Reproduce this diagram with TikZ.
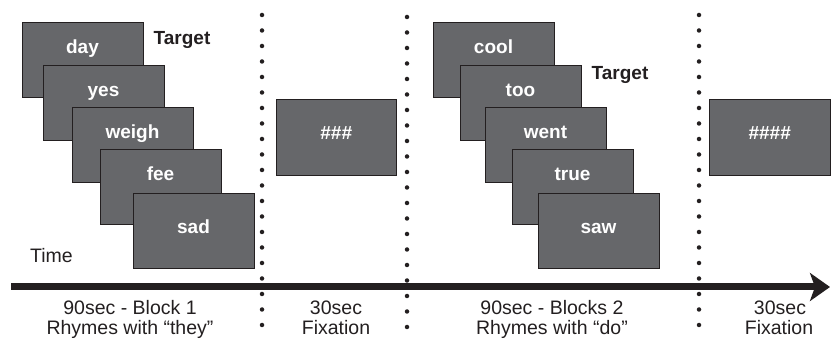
\documentclass[tikz,border=0pt]{standalone}
\usepackage{fontspec}
\setmainfont{Liberation Sans}
\usetikzlibrary{arrows.meta}
\definecolor{boxgray}{HTML}{66676A}
\definecolor{ink}{HTML}{231F20}
\begin{document}
\begin{tikzpicture}[x=1pt,y=-1pt,
  screen/.style={draw=ink, line width=1.4pt, fill=boxgray, minimum width=121pt, minimum height=75pt, inner sep=0pt, anchor=north west},
  fixbox/.style={screen, minimum width=120pt, minimum height=76pt},
  word/.style={text=white, font=\fontsize{19}{22}\selectfont\bfseries, inner sep=0pt, anchor=mid},
  hash/.style={text=white, font=\fontsize{19}{22}\selectfont\bfseries\itshape, inner sep=0pt, anchor=mid},
  tgt/.style={text=ink, font=\fontsize{19}{22}\selectfont\bfseries, inner sep=0pt, anchor=mid},
  lbl/.style={text=ink, font=\fontsize{19.5}{22}\selectfont, inner sep=0pt, anchor=base},
  dots/.style={draw=ink, line width=4.5pt, line cap=round, dash pattern=on 0pt off 15.5pt},
  timeline/.style={draw=ink, line width=7pt, -{Stealth[length=20pt,width=28pt,inset=5pt]}}
]
\useasboundingbox (0,0) rectangle (831,339);

% dotted separators
\coordinate (d1t) at (262,15);  \coordinate (d1b) at (262,339);
\coordinate (d2t) at (407,17);  \coordinate (d2b) at (407,330);
\coordinate (d3t) at (699,15);  \coordinate (d3b) at (699,339);
\draw[dots] (d1t) -- (d1b);
\draw[dots] (d2t) -- (d2b);
\draw[dots] (d3t) -- (d3b);

% time axis
\coordinate (ts) at (11,287);
\coordinate (te) at (830,287);
\draw[timeline] (ts) -- (te);

% block 1
\node[screen] (a1) at (22,22) {};
\node[word] (w1) at (82.5,51) {day};
\node[screen] (a2) at (43,65) {};
\node[word] (w2) at (103.5,94) {yes};
\node[screen] (a3) at (72,107) {};
\node[word] (w3) at (132.5,136) {weigh};
\node[screen] (a4) at (100,149) {};
\node[word] (w4) at (160.5,178) {fee};
\node[screen] (a5) at (133,193) {};
\node[word] (w5) at (193.5,231) {sad};
\node[tgt] (t1) at (182,42) {Target};
\node[lbl, anchor=base west] (time) at (30,263) {Time};

% fixation 1
\node[fixbox] (f1) at (276,99) {};
\node[hash] (h1) at (336,137) {\#\#\#};

% block 2
\node[screen] (b1) at (433,22) {};
\node[word] (v1) at (493.5,51) {cool};
\node[screen] (b2) at (460,65) {};
\node[word] (v2) at (520.5,94) {too};
\node[screen] (b3) at (485,107) {};
\node[word] (v3) at (545.5,136) {went};
\node[screen] (b4) at (512,149) {};
\node[word] (v4) at (572.5,178) {true};
\node[screen] (b5) at (538,193) {};
\node[word] (v5) at (598.5,231) {saw};
\node[tgt] (t2) at (620,77) {Target};

% fixation 2
\node[fixbox, minimum width=121pt] (f2) at (709,99) {};
\node[hash] (h2) at (769.5,137) {\#\#\#\#};

% labels under the axis
\node[lbl] (l1a) at (130,315) {90sec - Block 1};
\node[lbl] (l1b) at (130,335) {Rhymes with “they”};
\node[lbl] (l2a) at (336,315) {30sec};
\node[lbl] (l2b) at (336,335) {Fixation};
\node[lbl] (l3a) at (552,315) {90sec - Blocks 2};
\node[lbl] (l3b) at (552,335) {Rhymes with “do”};
\node[lbl] (l4a) at (780,315) {30sec};
\node[lbl] (l4b) at (779,335) {Fixation};
\end{tikzpicture}
\end{document}
